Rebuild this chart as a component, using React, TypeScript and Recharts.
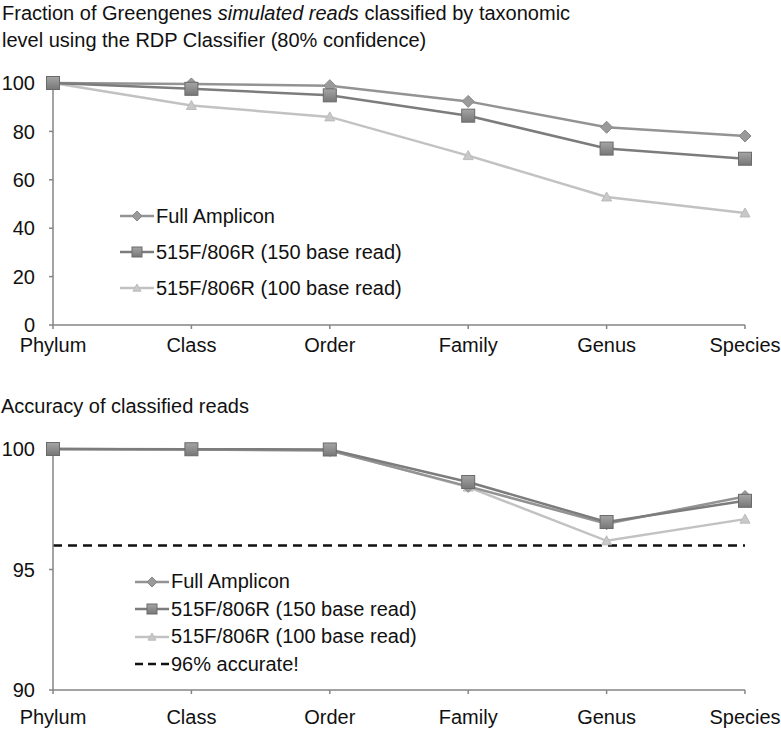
import React from "react";
import { LineChart, Line, XAxis, YAxis } from "recharts";

// taxonomic levels
const levels = ["Phylum", "Class", "Order", "Family", "Genus", "Species"];

// fraction classified (%)
const fracFull = [100, 99.6, 98.9, 92.4, 81.7, 78.1];
const frac150 = [100, 97.6, 94.9, 86.5, 72.9, 68.7];
const frac100 = [100, 90.7, 86.0, 70.0, 52.9, 46.3];

// accuracy of classified reads (%)
const accFull = [100, 99.98, 99.94, 98.45, 96.9, 98.03];
const acc150 = [100, 99.99, 99.98, 98.63, 96.97, 97.85];
const acc100 = [100, 99.98, 99.96, 98.42, 96.19, 97.09];
const accThreshold = [96, 96, 96, 96, 96, 96];

const fracTicks = [0, 20, 40, 60, 80, 100];
const accTicks = [90, 95, 100];

const seriesNames = ["Full Amplicon", "515F/806R (150 base read)", "515F/806R (100 base read)"];

const FONT = "'Liberation Sans', Arial, Helvetica, sans-serif";
const AXIS = "#858585";
const C_FULL = "#939393";
const C_150 = "#7c7c7c";
const C_100 = "#c2c2c2";

const fracData = levels.map((l, i) => ({ level: l, full: fracFull[i], r150: frac150[i], r100: frac100[i] }));
const accData = levels.map((l, i) => ({
  level: l,
  full: accFull[i],
  r150: acc150[i],
  r100: acc100[i],
  thr: accThreshold[i],
}));

// 菱形
function Diamond({ cx, cy, s = 6 }: any) {
  if (cx == null || cy == null) return null;
  return (
    <path
      d={`M${cx},${cy - s} L${cx + s},${cy} L${cx},${cy + s} L${cx - s},${cy} Z`}
      fill="#9a9a9a"
      stroke="#888"
      strokeWidth={1}
    />
  );
}

// 方块
function Square({ cx, cy, s = 6.5 }: any) {
  if (cx == null || cy == null) return null;
  return (
    <rect x={cx - s} y={cy - s} width={s * 2} height={s * 2} fill="url(#sqGrad)" stroke="#6a6a6a" strokeWidth={1} />
  );
}

// 三角
function Triangle({ cx, cy, s = 5 }: any) {
  if (cx == null || cy == null) return null;
  return (
    <path d={`M${cx},${cy - s} L${cx + s},${cy + s * 0.8} L${cx - s},${cy + s * 0.8} Z`} fill="#c8c8c8" stroke="#bbb" strokeWidth={1} />
  );
}

function Defs() {
  return (
    <defs>
      <linearGradient id="sqGrad" x1="0" y1="0" x2="0" y2="1">
        <stop offset="0%" stopColor="#a5a5a5" />
        <stop offset="100%" stopColor="#777" />
      </linearGradient>
    </defs>
  );
}

function LegendIcon({ kind }: { kind: string }) {
  const w = 34;
  const cy = 8;
  const cx = w / 2;
  return (
    <svg width={w} height={16} style={{ display: "block" }}>
      <Defs />
      {kind === "thr" ? (
        <line x1={0} x2={w} y1={cy} y2={cy} stroke="#111" strokeWidth={2.5} strokeDasharray="8 5" />
      ) : (
        <line
          x1={0}
          x2={w}
          y1={cy}
          y2={cy}
          stroke={kind === "full" ? C_FULL : kind === "r150" ? C_150 : C_100}
          strokeWidth={2.5}
        />
      )}
      {kind === "full" && <Diamond cx={cx} cy={cy} s={5} />}
      {kind === "r150" && <Square cx={cx} cy={cy} s={5} />}
      {kind === "r100" && <Triangle cx={cx} cy={cy} s={4} />}
    </svg>
  );
}

function LegendBox({ items, gap, left, top }: { items: { kind: string; label: string }[]; gap: number; left: number; top: number }) {
  return (
    <div style={{ position: "absolute", left, top, fontFamily: FONT, fontSize: 20, color: "#111" }}>
      {items.map((it) => (
        <div key={it.label} style={{ display: "flex", alignItems: "center", height: gap }}>
          <LegendIcon kind={it.kind} />
          <span style={{ marginLeft: 2, whiteSpace: "nowrap" }}>{it.label}</span>
        </div>
      ))}
    </div>
  );
}

const tickStyle = { fill: "#111", fontSize: 20, fontFamily: FONT };

export default function App() {
  return (
    <div style={{ position: "absolute", left: 0, top: 0, width: 781, height: 729, background: "#fff", fontFamily: FONT }}>
      {/* 标题 */}
      <div style={{ position: "absolute", left: 2, top: 0, fontSize: 20, lineHeight: "27px", color: "#111" }}>
        Fraction of Greengenes <i>simulated reads</i> classified by taxonomic
        <br />
        level using the RDP Classifier (80% confidence)
      </div>

      <div style={{ position: "absolute", left: 0, top: 0 }}>
        <LineChart width={781} height={360} data={fracData} margin={{ top: 83, right: 36, left: 0, bottom: 5 }}>
          <Defs />
          <XAxis
            dataKey="level"
            scale="point"
            padding={{ left: 0, right: 0 }}
            stroke={AXIS}
            strokeWidth={1.5}
            tickSize={4}
            tickMargin={9}
            height={30}
            tick={tickStyle}
            interval={0}
          />
          <YAxis
            domain={[0, 100]}
            ticks={fracTicks}
            width={53}
            stroke={AXIS}
            strokeWidth={1.5}
            tickSize={4}
            tickMargin={14}
            tick={tickStyle}
            interval={0}
          />
          <Line dataKey="r100" stroke={C_100} strokeWidth={2.5} dot={<Triangle />} isAnimationActive={false} />
          <Line dataKey="full" stroke={C_FULL} strokeWidth={2.5} dot={<Diamond />} isAnimationActive={false} />
          <Line dataKey="r150" stroke={C_150} strokeWidth={2.5} dot={<Square />} isAnimationActive={false} />
        </LineChart>
      </div>
      <LegendBox
        left={120}
        top={198}
        gap={36}
        items={[
          { kind: "full", label: seriesNames[0] },
          { kind: "r150", label: seriesNames[1] },
          { kind: "r100", label: seriesNames[2] },
        ]}
      />

      <div style={{ position: "absolute", left: 1, top: 393, fontSize: 20, lineHeight: "27px", color: "#111" }}>
        Accuracy of classified reads
      </div>

      <div style={{ position: "absolute", left: 0, top: 360 }}>
        <LineChart width={781} height={369} data={accData} margin={{ top: 89, right: 36, left: 0, bottom: 9 }}>
          <Defs />
          <XAxis
            dataKey="level"
            scale="point"
            padding={{ left: 0, right: 0 }}
            stroke={AXIS}
            strokeWidth={1.5}
            tickSize={4}
            tickMargin={16}
            height={30}
            tick={tickStyle}
            interval={0}
          />
          <YAxis
            domain={[90, 100]}
            ticks={accTicks}
            width={53}
            stroke={AXIS}
            strokeWidth={1.5}
            tickSize={4}
            tickMargin={14}
            tick={tickStyle}
            interval={0}
          />
          <Line dataKey="thr" stroke="#111" strokeWidth={2.5} strokeDasharray="9 6" dot={false} isAnimationActive={false} />
          <Line dataKey="r100" stroke={C_100} strokeWidth={2.5} dot={<Triangle />} isAnimationActive={false} />
          <Line dataKey="full" stroke={C_FULL} strokeWidth={2.5} dot={<Diamond />} isAnimationActive={false} />
          <Line dataKey="r150" stroke={C_150} strokeWidth={2.5} dot={<Square />} isAnimationActive={false} />
        </LineChart>
      </div>
      <LegendBox
        left={135}
        top={568}
        gap={27.5}
        items={[
          { kind: "full", label: seriesNames[0] },
          { kind: "r150", label: seriesNames[1] },
          { kind: "r100", label: seriesNames[2] },
          { kind: "thr", label: "96% accurate!" },
        ]}
      />
    </div>
  );
}
